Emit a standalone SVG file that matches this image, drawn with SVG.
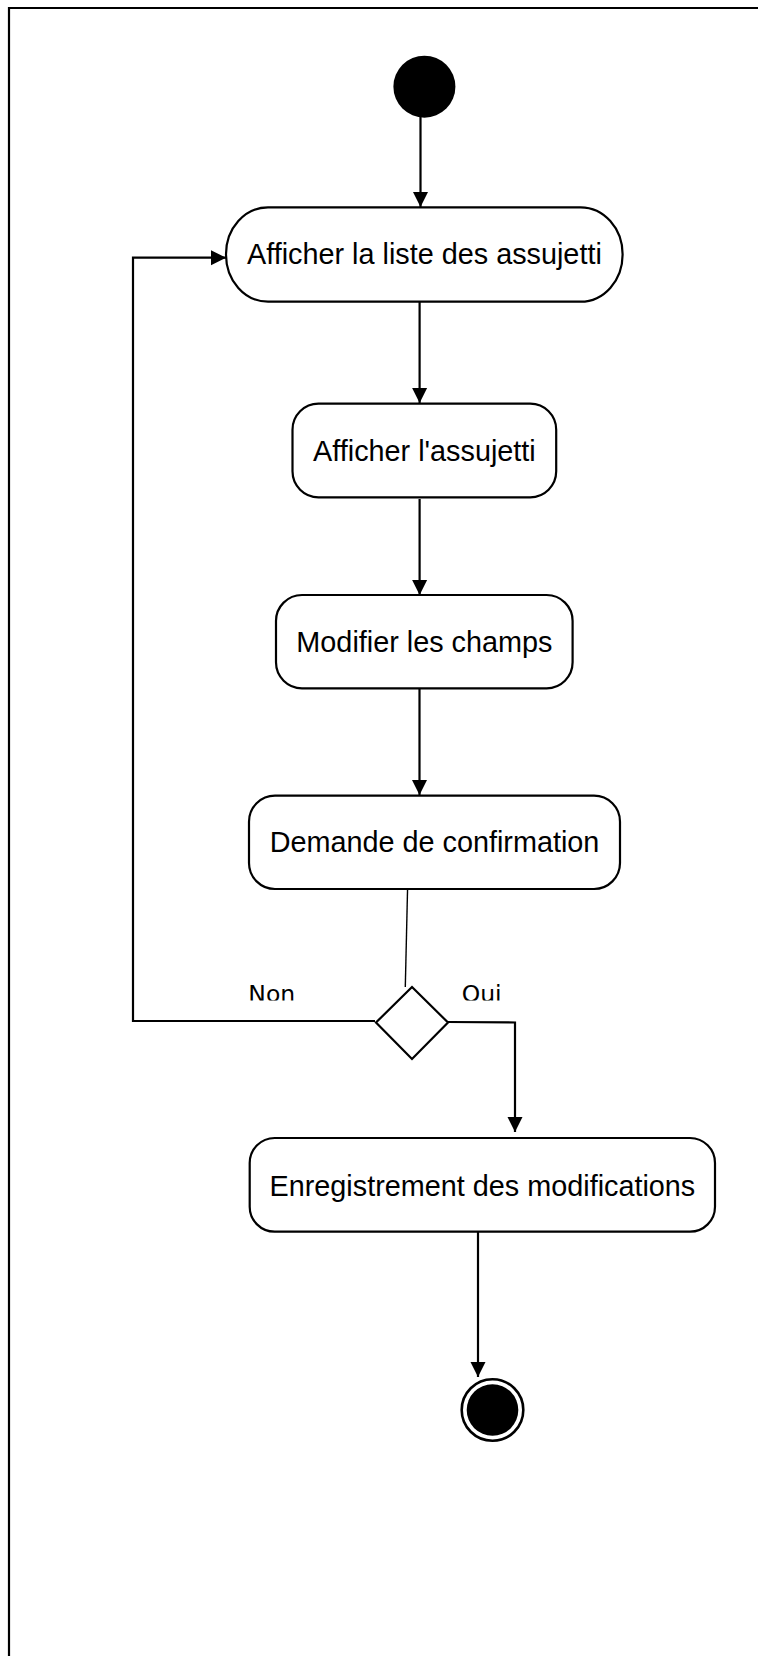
<svg xmlns="http://www.w3.org/2000/svg" width="758" height="1656" viewBox="0 0 758 1656">
<style>
.node{fill:#fff;stroke:#000;stroke-width:2.2}
.lbl{font-family:"Liberation Sans",Arial,sans-serif;font-size:28.8px;fill:#000;text-anchor:middle}
.guard{font-family:"DejaVu Sans",sans-serif;font-size:23.5px;fill:#000}
.edge{fill:none;stroke:#000;stroke-width:2.2}
</style>
<defs>
<marker id="arr" markerUnits="userSpaceOnUse" markerWidth="16" markerHeight="16" viewBox="0 0 16 16" refX="15" refY="8" orient="auto">
<path d="M0,0.5 L15,8 L0,15.5 Z" fill="#000"/>
</marker>
<clipPath id="lblclip"><rect x="0" y="960" width="758" height="40.5"/></clipPath>
</defs>
<rect width="758" height="1656" fill="#fff"/>
<path d="M9,1656 V8 H758" fill="none" stroke="#000" stroke-width="2.2"/>
<g id="connectors">
<line class="edge" x1="420.5" y1="117" x2="420.5" y2="207" marker-end="url(#arr)"/>
<line class="edge" x1="419.6" y1="298" x2="419.6" y2="403" marker-end="url(#arr)"/>
<line class="edge" x1="419.6" y1="499" x2="419.6" y2="595" marker-end="url(#arr)"/>
<line class="edge" x1="419.5" y1="687" x2="419.5" y2="795" marker-end="url(#arr)"/>
<line x1="407.6" y1="887" x2="405.3" y2="987" stroke="#000" stroke-width="1.4"/>
<path class="edge" d="M375,1021 H133 V257.7 H226" marker-end="url(#arr)"/>
<path class="edge" d="M448,1022 L515,1022.5 V1132" marker-end="url(#arr)"/>
<line class="edge" x1="478" y1="1232" x2="478" y2="1377" marker-end="url(#arr)"/>
</g>
<g id="start"><circle cx="424.4" cy="86.7" r="31" fill="#000"/></g>
<g id="n1"><rect class="node" x="226" y="207.3" width="396.6" height="94.4" rx="42" ry="47"/><text class="lbl" x="424.4" y="263.5">Afficher la liste des assujetti</text></g>
<g id="n2"><rect class="node" x="292.5" y="403.7" width="263.7" height="93.6" rx="26" ry="26"/><text class="lbl" x="424.4" y="460.5">Afficher l'assujetti</text></g>
<g id="n3"><rect class="node" x="276" y="595" width="296.6" height="93.3" rx="26" ry="26"/><text class="lbl" x="424.4" y="651.5">Modifier les champs</text></g>
<g id="n4"><rect class="node" x="249" y="795.7" width="371" height="93.3" rx="26" ry="26"/><text class="lbl" x="434.5" y="852">Demande de confirmation</text></g>
<g id="decision"><polygon points="412,987 448,1022.5 412,1059 376,1022.5" fill="#fff" stroke="#000" stroke-width="2.2"/></g>
<g id="guards" clip-path="url(#lblclip)">
<text class="guard" x="248.3" y="1001.5">Non</text>
<text class="guard" x="461.7" y="1001.5">Oui</text>
</g>
<g id="n5"><rect class="node" x="249.7" y="1138" width="465.3" height="93.7" rx="25" ry="25"/><text class="lbl" x="482.4" y="1195.7">Enregistrement des modifications</text></g>
<g id="end"><circle cx="492.5" cy="1410" r="30.8" fill="#fff" stroke="#000" stroke-width="2.6"/><circle cx="492.5" cy="1410" r="25.8" fill="#000"/></g>
</svg>
